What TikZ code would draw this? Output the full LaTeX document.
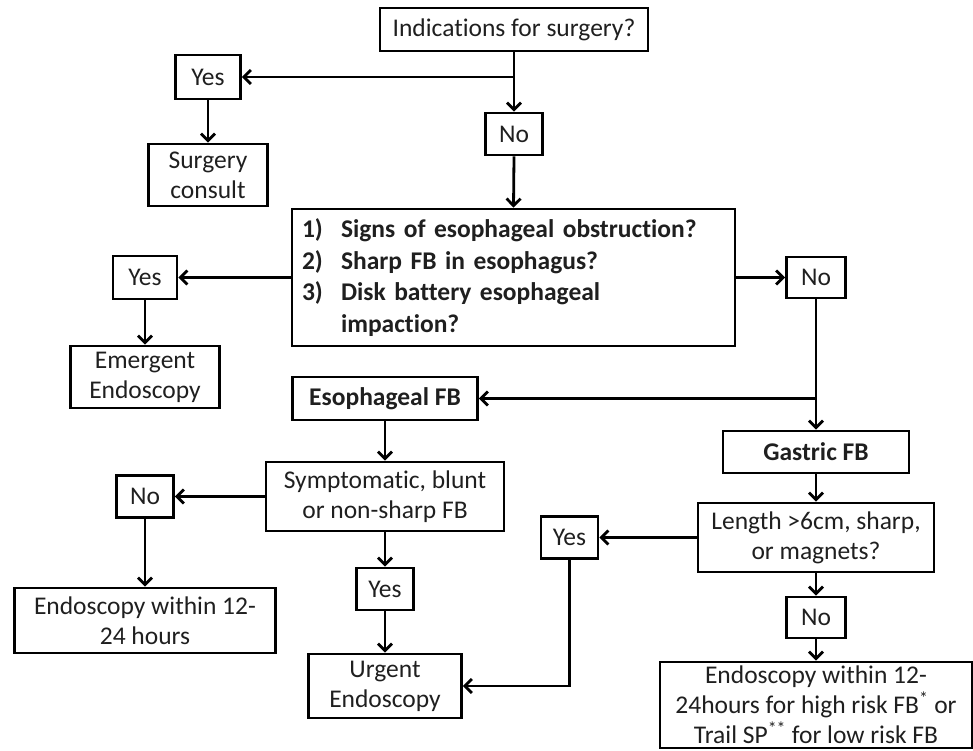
\documentclass[tikz,border=0pt]{standalone}
\usepackage{fontspec}
\setmainfont[Ligatures=CommonOff]{Carlito}
\usetikzlibrary{arrows.meta}
\begin{document}
\begin{tikzpicture}[x=1pt,y=-1pt,
  box/.style={draw, line width=2.8pt, inner sep=0pt, align=center,
    font=\fontsize{25.5}{30}\selectfont, text=black!88},
  arr/.style={line width=2.8pt, -{Straight Barb[length=7pt,width=14pt]}}]
\useasboundingbox (0,0) rectangle (973,751);

\node[box, minimum width=268pt, minimum height=43pt] (ind) at (514,29.5) {Indications for surgery?};
\node[box, minimum width=65pt, minimum height=44pt] (yes1) at (208,77) {Yes};
\node[box, minimum width=119pt, minimum height=62pt] (surg) at (208,175) {Surgery\\consult};
\node[box, minimum width=57pt, minimum height=42pt] (no1) at (514,134) {No};
\node[box, text width=423pt, inner xsep=10pt, minimum height=137pt, align=left,
  font=\bfseries\fontsize{25.5}{31.5}\selectfont] (big) at (513.5,277.5)
  {\makebox[39pt][l]{1)}Signs of esophageal obstruction?\\
   \makebox[39pt][l]{2)}Sharp FB in esophagus?\\
   \makebox[39pt][l]{3)}Disk battery esophageal\\
   \hspace*{39pt}impaction?};
\node[box, minimum width=64pt, minimum height=43pt] (yes2) at (145,277.5) {Yes};
\node[box, minimum width=149pt, minimum height=62pt] (emer) at (145,377) {Emergent\\Endoscopy};
\node[box, minimum width=59pt, minimum height=41pt] (no2) at (816,277.5) {No};
\node[box, minimum width=185pt, minimum height=43pt, font=\bfseries\fontsize{25.5}{30}\selectfont] (esoph) at (385,398.5) {Esophageal FB};
\node[box, minimum width=186pt, minimum height=42pt, font=\bfseries\fontsize{25.5}{30}\selectfont] (gastric) at (816,452) {Gastric FB};
\node[box, minimum width=238pt, minimum height=69pt] (symp) at (385,496.5) {Symptomatic, blunt\\or non-sharp FB};
\node[box, minimum width=57pt, minimum height=42pt] (no4) at (145,496.5) {No};
\node[box, minimum width=261pt, minimum height=65pt] (endo1) at (145,620.5) {Endoscopy within 12-\\24 hours};
\node[box, minimum width=57pt, minimum height=42pt] (yes4) at (385,589) {Yes};
\node[box, minimum width=153pt, minimum height=64pt] (urgent) at (385,686) {Urgent\\Endoscopy};
\node[box, minimum width=236pt, minimum height=69pt] (length) at (816,537.5) {Length >6cm, sharp,\\or magnets?};
\node[box, minimum width=57pt, minimum height=42pt] (yes3) at (569.5,537.5) {Yes};
\node[box, minimum width=59pt, minimum height=41pt] (no3) at (816,617.5) {No};
\node[box, minimum width=312pt, minimum height=86pt] (final) at (816,705)
  {Endoscopy within 12-\\24hours for high risk FB\textsuperscript{*} or\\Trail SP\textsuperscript{**} for low risk FB};

% connectors
\coordinate (b1) at (ind.south |- yes1.east);
\draw[arr] (ind.south) -- (no1.north);
\draw[arr] (b1) -- (yes1.east);
\draw[arr] (yes1.south) -- (surg.north);
\draw[arr] (no1.south) -- (big.north);
\draw[arr] (big.west) -- (yes2.east);
\draw[arr] (yes2.south) -- (emer.north);
\draw[arr] (big.east) -- (no2.west);
\coordinate (b2) at (no2.south |- esoph.east);
\draw[arr] (no2.south) -- (gastric.north);
\draw[arr] (b2) -- (esoph.east);
\draw[arr] (esoph.south) -- (symp.north);
\draw[arr] (symp.west) -- (no4.east);
\draw[arr] (no4.south) -- (endo1.north);
\draw[arr] (symp.south) -- (yes4.north);
\draw[arr] (yes4.south) -- (urgent.north);
\draw[arr] (gastric.south) -- (length.north);
\draw[arr] (length.west) -- (yes3.east);
\draw[arr] (length.south) -- (no3.north);
\draw[arr] (no3.south) -- (final.north);
\draw[arr] (yes3.south) |- (urgent.east);
\end{tikzpicture}
\end{document}
